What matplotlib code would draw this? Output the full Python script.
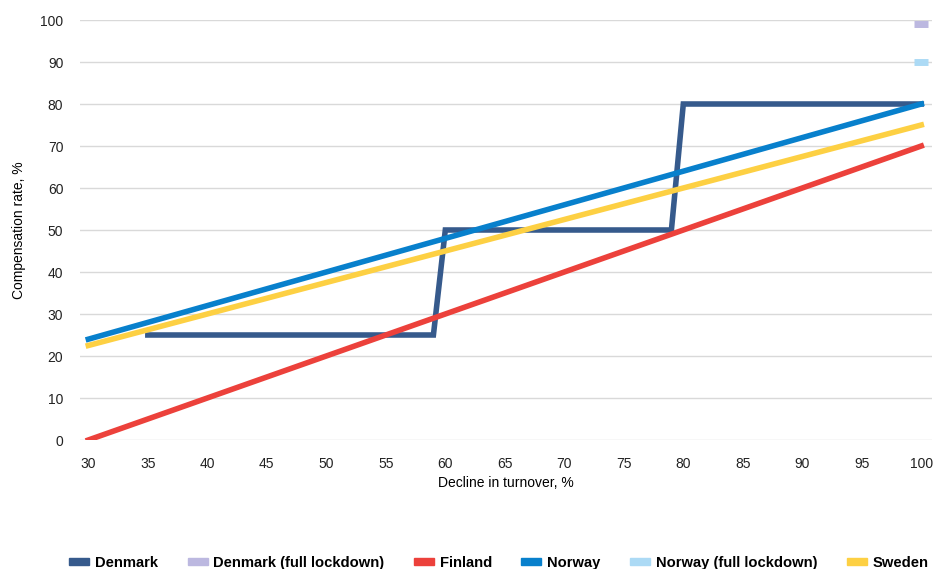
import matplotlib.pyplot as plt
from matplotlib.patches import Patch

plt.rcParams['font.family'] = ['Liberation Sans', 'DejaVu Sans']

# compensation schemes: decline in turnover (%) -> compensation rate (%)
dk_x = [35, 59, 60, 79, 80, 100]
dk_y = [25, 25, 50, 50, 80, 80]
fi_x = [30, 100]
fi_y = [0, 70]
no_x = [30, 100]
no_y = [24, 80]
se_x = [30, 100]
se_y = [22.5, 75]
dk_lock_x = [100]
dk_lock_y = [99]
no_lock_x = [100]
no_lock_y = [90]

c_dk = '#365a8c'
c_dk_lock = '#bcb8e0'
c_fi = '#ec413b'
c_no = '#0880cc'
c_no_lock = '#acdaf5'
c_se = '#fdd043'

fig = plt.figure(figsize=(9.38, 5.69), dpi=100)
ax = fig.add_axes([80/938, 1-440/569, 852/938, 420/569])

lw = 4
ax.plot(dk_x, dk_y, color=c_dk, lw=lw, solid_joinstyle='miter', zorder=3)
ax.plot(fi_x, fi_y, color=c_fi, lw=lw, zorder=3)
ax.plot(se_x, se_y, color=c_se, lw=lw, zorder=4)
ax.plot(no_x, no_y, color=c_no, lw=lw, zorder=5)
ax.plot(dk_lock_x, dk_lock_y, ls='none', marker='_', ms=10, mew=5, color=c_dk_lock, zorder=6)
ax.plot(no_lock_x, no_lock_y, ls='none', marker='_', ms=10, mew=5, color=c_no_lock, zorder=6)

ax.set_xlim(29.3, 100.9)
ax.set_ylim(0, 100)
ax.set_xticks(range(30, 101, 5))
ax.set_yticks(range(0, 101, 10))
ax.grid(axis='y', color='#d9d9d9', lw=1)
ax.set_axisbelow(True)
for s in ax.spines.values():
    s.set_visible(False)
ax.tick_params(length=0, labelsize=10, colors='#222222', pad=12)
ax.tick_params(axis='x', pad=12)
ax.set_xlabel('Decline in turnover, %', fontsize=10, labelpad=4)
ax.set_ylabel('Compensation rate, %', fontsize=10, labelpad=10)

handles = [Patch(color=c_dk), Patch(color=c_dk_lock), Patch(color=c_fi),
           Patch(color=c_no), Patch(color=c_no_lock), Patch(color=c_se)]
labels = ['Denmark', 'Denmark (full lockdown)', 'Finland', 'Norway',
          'Norway (full lockdown)', 'Sweden']
leg = fig.legend(handles, labels, loc='center', bbox_to_anchor=(0.532, 0.011),
                 ncol=6, frameon=False, handlelength=1.35, handleheight=0.4,
                 handletextpad=0.4, columnspacing=2.0,
                 prop={'weight': 'bold', 'size': 10.6})

fig.savefig('out.png', dpi=100)
